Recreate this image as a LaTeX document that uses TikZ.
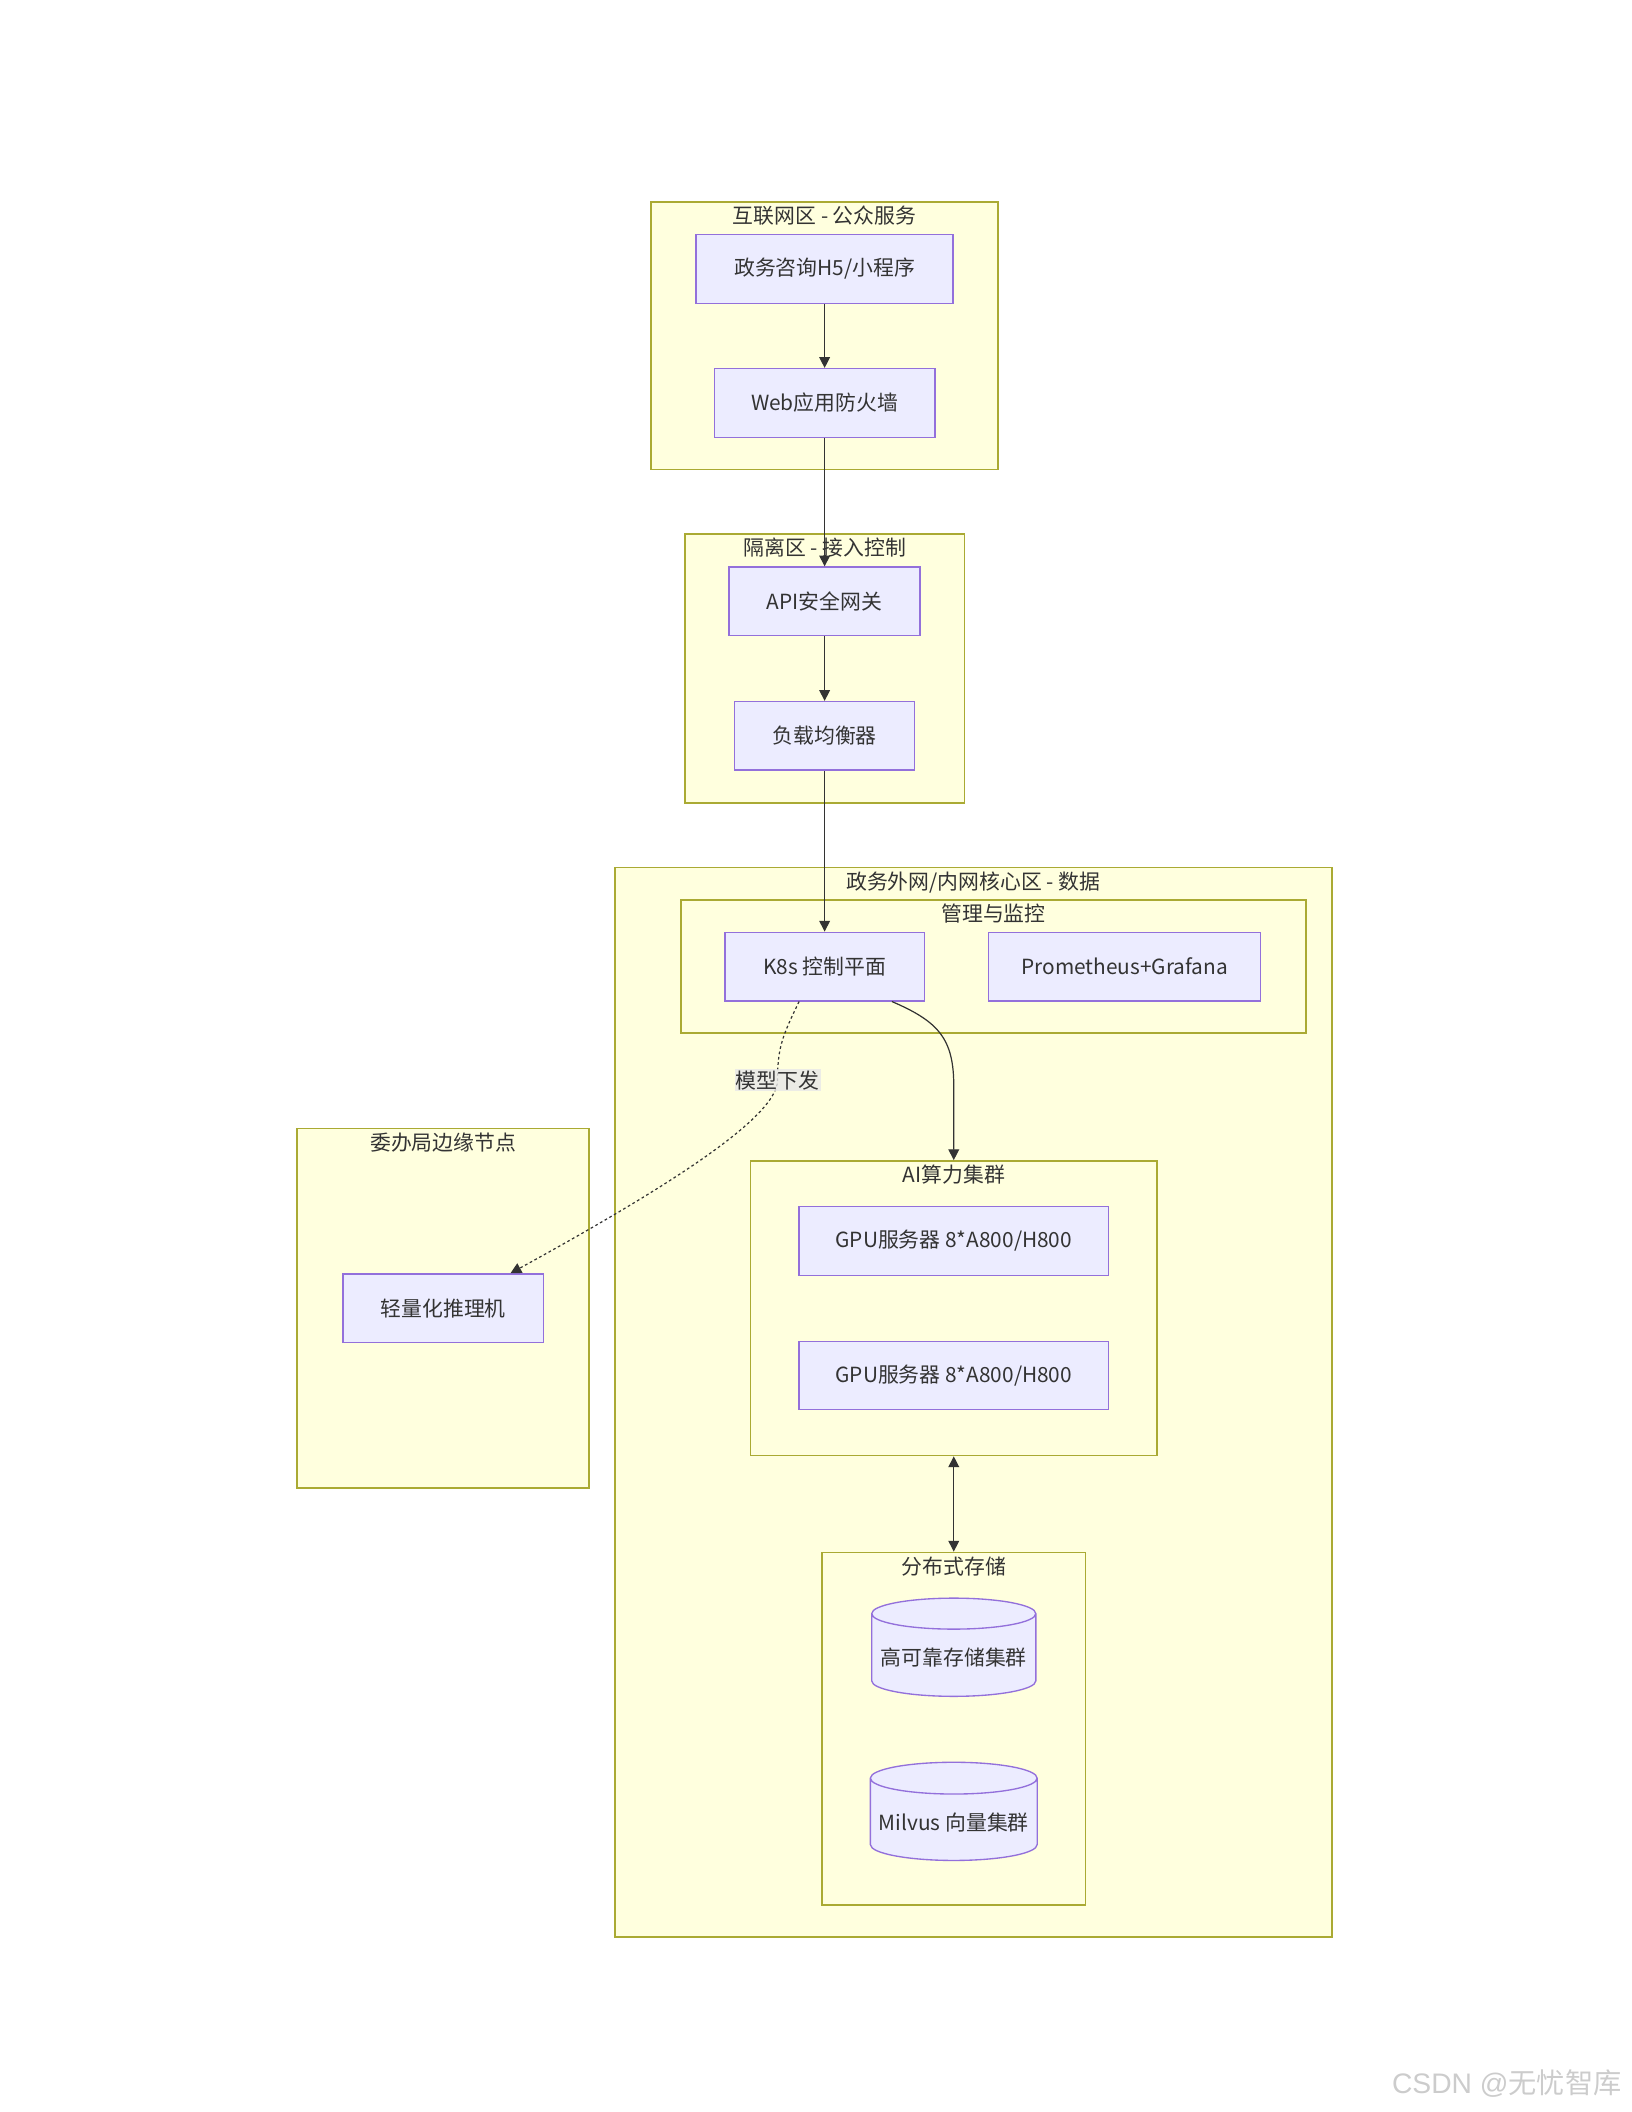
\documentclass[tikz,border=0pt]{standalone}
\usepackage{fontspec}
\setmainfont{Noto Sans CJK SC}
\newfontfamily\wmlatin{Liberation Sans}
\usetikzlibrary{shapes.geometric,arrows.meta}

\definecolor{zonefill}{HTML}{FFFFDE}
\definecolor{zoneline}{HTML}{AAAA33}
\definecolor{boxfill}{HTML}{ECECFF}
\definecolor{boxline}{HTML}{9370DB}
\definecolor{ink}{HTML}{333333}
\definecolor{lblfill}{HTML}{E8E8E8}

\begin{document}
\begin{tikzpicture}[x=1pt, y=-1pt,
  font=\fontsize{15.5}{18}\selectfont, text=ink,
  >={Triangle[length=8pt,width=8pt]},
  zone/.style={draw=zoneline, fill=zonefill, line width=1.2pt, inner sep=0pt},
  ztitle/.style={anchor=north, inner sep=3.5pt},
  box/.style={draw=boxline, fill=boxfill, line width=1pt, minimum height=51pt},
  db/.style={cylinder, shape border rotate=90, aspect=0.2, draw=boxline, fill=boxfill,
    line width=1pt, minimum width=122pt, minimum height=73pt, anchor=shape center},
  link/.style={draw=ink, line width=0.9pt},
  lbl/.style={fill=lblfill, fill opacity=0.8, text opacity=1, inner sep=1pt}]

\useasboundingbox (0,0) rectangle (1213,1570);

% zones
\node[zone, minimum width=258pt, minimum height=199pt] (inet) at (613,249.5) {};
\node[ztitle] (inet-t) at (inet.north) {互联网区 - 公众服务};
\node[zone, minimum width=208pt, minimum height=200pt] (dmz) at (613,497) {};
\node[ztitle] (dmz-t) at (dmz.north) {隔离区 - 接入控制};
\node[zone, minimum width=533pt, minimum height=795pt] (core) at (723.5,1042.5) {};
\node[ztitle] (core-t) at (core.north) {政务外网/内网核心区 - 数据};
\node[zone, minimum width=465pt, minimum height=99pt] (ops) at (738.5,718.5) {};
\node[ztitle] (ops-t) at (ops.north) {管理与监控};
\node[zone, minimum width=302pt, minimum height=219pt] (aipool) at (709,972.5) {};
\node[ztitle] (aipool-t) at (aipool.north) {AI算力集群};
\node[zone, minimum width=196pt, minimum height=262pt] (store) at (709,1285) {};
\node[ztitle] (store-t) at (store.north) {分布式存储};
\node[zone, minimum width=217pt, minimum height=267pt] (branch) at (329.5,972.5) {};
\node[ztitle] (branch-t) at (branch.north) {委办局边缘节点};

% services
\node[box, minimum width=191pt] (h5) at (613,200) {政务咨询H5/小程序};
\node[box, minimum width=164pt] (waf) at (613,299.5) {Web应用防火墙};
\node[box, minimum width=142pt] (api) at (613,447) {API安全网关};
\node[box, minimum width=134pt] (lb) at (613,547) {负载均衡器};
\node[box, minimum width=148pt] (k8s) at (613,718.5) {K8s 控制平面};
\node[box, minimum width=202pt] (prom) at (836,718.5) {Prometheus+Grafana};
\node[box, minimum width=230pt] (gpu1) at (709,922.5) {GPU服务器 8*A800/H800};
\node[box, minimum width=230pt] (gpu2) at (709,1022.5) {GPU服务器 8*A800/H800};
\node[db] (hadb) at (709,1224.5) {高可靠存储集群};
\node[db, minimum width=124pt] (vecdb) at (709,1346.5) {Milvus 向量集群};
\node[box, minimum width=149pt] (infer) at (329.5,972.5) {轻量化推理机};

% links
\draw[link,->] (h5) -- (waf);
\draw[link,->] (waf) -- (api);
\draw[link,->] (api) -- (lb);
\draw[link,->] (lb) -- (k8s);
\draw[link,->] ([xshift=50pt]k8s.south) .. controls +(35,15) and +(0,-35) .. ([yshift=55pt]aipool.north) -- (aipool.north);
\draw[link,<->] (aipool) -- (store);

% model dispatch to edge
\coordinate (drop) at (578,803);
\draw[link,->,dash pattern=on 2pt off 2pt] ([xshift=-19pt]k8s.south) .. controls +(-12,25) and +(0,-25) .. (drop) node[lbl] (drop-t) {模型下发} .. controls +(0,30) and +(100,-55) .. ([xshift=50pt]infer.north);

% watermark
\node[anchor=east, text=gray!40, font=\fontsize{21}{24}\selectfont] (mark) at (1209,1549) {{\wmlatin CSDN @}无忧智库};

\end{tikzpicture}
\end{document}
